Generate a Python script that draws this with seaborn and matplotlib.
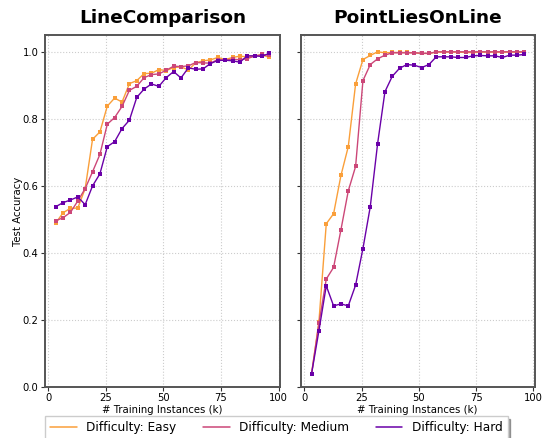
import numpy as np
import pandas as pd
import matplotlib
matplotlib.use("Agg")
import matplotlib.pyplot as plt
from matplotlib.lines import Line2D
import seaborn as sns

# ---------------- data ----------------
train_k = [3.2, 6.4, 9.6, 12.8, 16.0, 19.2, 22.4, 25.6, 28.8, 32.0,
           35.2, 38.4, 41.6, 44.8, 48.0, 51.2, 54.4, 57.6, 60.8, 64.0,
           67.2, 70.4, 73.6, 76.8, 80.0, 83.2, 86.4, 89.6, 92.8, 96.0]

difficulties = ["Difficulty: Easy", "Difficulty: Medium", "Difficulty: Hard"]
tasks = ["LineComparison", "PointLiesOnLine"]

lc_easy = [0.489, 0.520, 0.533, 0.534, 0.592, 0.739, 0.761, 0.838, 0.862, 0.850,
           0.905, 0.914, 0.935, 0.936, 0.947, 0.944, 0.953, 0.955, 0.946, 0.967,
           0.973, 0.976, 0.983, 0.977, 0.983, 0.987, 0.985, 0.988, 0.991, 0.983]
lc_medium = [0.496, 0.505, 0.521, 0.555, 0.592, 0.642, 0.694, 0.784, 0.804, 0.837,
             0.885, 0.897, 0.923, 0.932, 0.934, 0.945, 0.957, 0.956, 0.958, 0.968,
             0.967, 0.966, 0.977, 0.975, 0.978, 0.976, 0.980, 0.987, 0.992, 0.990]
lc_hard = [0.538, 0.550, 0.558, 0.567, 0.544, 0.600, 0.636, 0.717, 0.732, 0.771,
           0.796, 0.864, 0.889, 0.904, 0.897, 0.923, 0.941, 0.922, 0.952, 0.948,
           0.949, 0.965, 0.974, 0.975, 0.973, 0.969, 0.988, 0.988, 0.986, 0.996]

pl_easy = [0.040, 0.195, 0.487, 0.517, 0.631, 0.717, 0.904, 0.977, 0.989, 1.000,
           0.997, 0.998, 0.998, 0.998, 0.997, 0.995, 0.995, 0.999, 0.999, 0.999,
           0.999, 0.998, 0.998, 0.999, 0.999, 0.999, 0.999, 0.999, 0.999, 0.999]
pl_medium = [0.040, 0.190, 0.322, 0.357, 0.469, 0.585, 0.658, 0.914, 0.962, 0.979,
             0.990, 0.997, 0.997, 0.997, 0.997, 0.996, 0.995, 1.000, 1.000, 1.000,
             1.000, 1.000, 1.000, 1.000, 1.000, 1.000, 1.000, 1.000, 1.000, 1.000]
pl_hard = [0.040, 0.168, 0.302, 0.242, 0.248, 0.242, 0.304, 0.413, 0.538, 0.726,
           0.881, 0.927, 0.951, 0.962, 0.960, 0.953, 0.962, 0.985, 0.985, 0.985,
           0.983, 0.983, 0.988, 0.989, 0.988, 0.988, 0.983, 0.990, 0.990, 0.992]

series = {
    "LineComparison": [lc_easy, lc_medium, lc_hard],
    "PointLiesOnLine": [pl_easy, pl_medium, pl_hard],
}

rows = []
for task in tasks:
    for diff, vals in zip(difficulties, series[task]):
        for x, y in zip(train_k, vals):
            rows.append({"task": task, "difficulty": diff, "k": x, "acc": y})
df = pd.DataFrame(rows)

colors = {"Difficulty: Easy": "#fa9f3a",
          "Difficulty: Medium": "#cc4778",
          "Difficulty: Hard": "#6a00a8"}

# ---------------- plot ----------------
sns.set_style("white")
plt.rcParams["font.family"] = ["DejaVu Sans"]
plt.rcParams["text.color"] = "black"
plt.rcParams["axes.labelcolor"] = "black"
plt.rcParams["xtick.color"] = "black"
plt.rcParams["ytick.color"] = "black"

fig = plt.figure(figsize=(5.54, 4.38), dpi=100)
ax1 = fig.add_axes([0.081, 0.1164, 0.424, 0.8036])
ax2 = fig.add_axes([0.543, 0.1164, 0.422, 0.8036], sharey=ax1)

for ax, task in zip([ax1, ax2], tasks):
    sub = df[df["task"] == task]
    sns.lineplot(data=sub, x="k", y="acc", hue="difficulty", hue_order=difficulties,
                 palette=colors, marker="s", markersize=2.6, markeredgewidth=0,
                 linewidth=1.0, ax=ax, legend=False)
    ax.set_title(task, fontsize=13.3, fontweight="bold", pad=9, color="black")
    ax.set_xlim(-1.5, 100.5)
    ax.set_ylim(0, 1.05)
    ax.set_xticks([0, 25, 50, 75, 100])
    ax.set_yticks([0.0, 0.2, 0.4, 0.6, 0.8, 1.0])
    ax.set_xlabel("# Training Instances (k)", fontsize=7.3, labelpad=1.5)
    ax.grid(True, linestyle=":", color="#cccccc", linewidth=0.8)
    ax.tick_params(axis="both", labelsize=7.2, length=3, width=0.8, pad=1.5,
                   left=True, bottom=True, color="#333333")
    for sp in ax.spines.values():
        sp.set_color("#555555")
        sp.set_linewidth(1.4)

ax1.set_ylabel("Test Accuracy", fontsize=7.3, labelpad=0)
ax2.set_ylabel("")
ax2.tick_params(axis="y", labelleft=False)

handles = [Line2D([0], [0], color=colors[d], linewidth=1.1) for d in difficulties]
fig.legend(handles, difficulties, loc="upper center", bbox_to_anchor=(0.499, 0.063),
           ncol=3, fontsize=8.7, frameon=True, fancybox=False, shadow=True,
           columnspacing=2.2, handlelength=2.2, borderpad=0.4, edgecolor="#cccccc")

fig.savefig("out.png", dpi=100)
